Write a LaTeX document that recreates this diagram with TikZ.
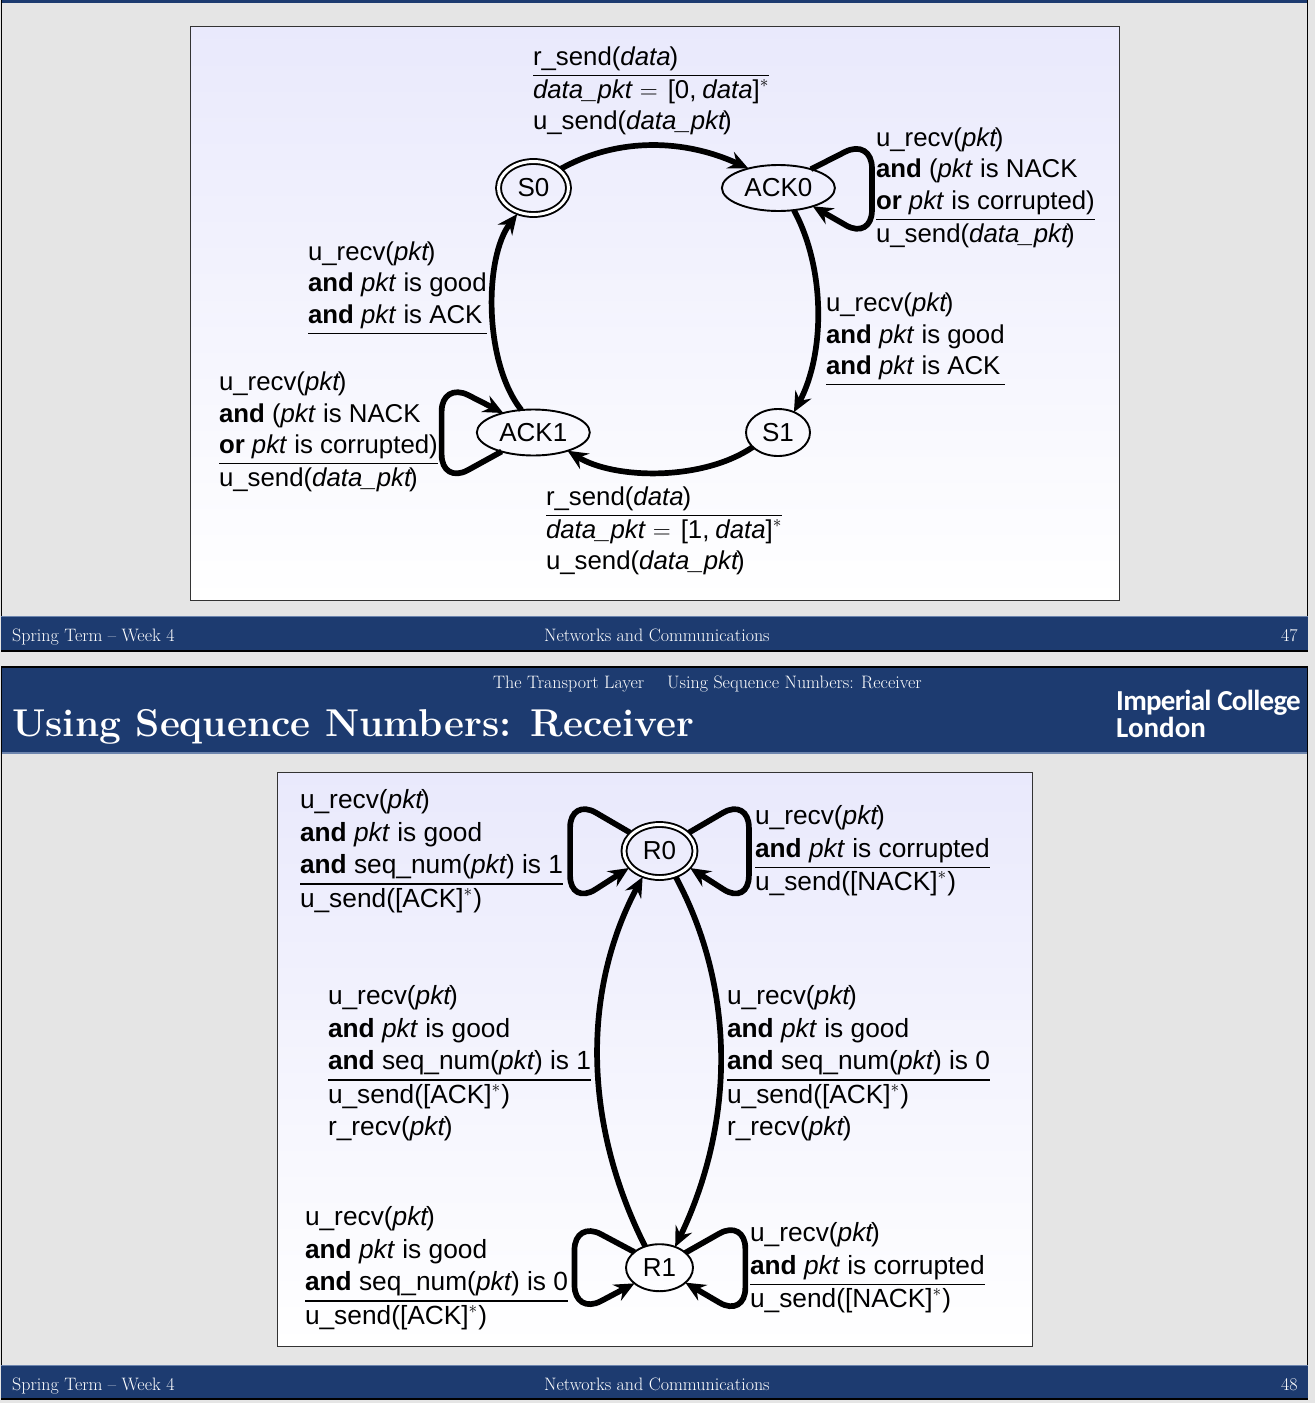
\documentclass[tikz,border=0pt]{standalone}
\usepackage{fontspec}
\usepackage{array}
\usetikzlibrary{shapes.geometric,arrows.meta}
\newfontfamily\hv{Liberation Sans}
\newfontfamily\logofont{Carlito}
\definecolor{navy}{HTML}{1D3B70}
\definecolor{navyedge}{HTML}{6D85AE}
\definecolor{pagegray}{HTML}{E5E5E5}
\definecolor{paneltop}{HTML}{E9E9FC}
\setlength{\arrayrulewidth}{1.4pt}
\newcommand{\lbl}[2]{\node[lblnode] at (#1) {\begin{tabular}{@{}l@{}}#2\end{tabular}};}
\newcommand{\lblb}[2]{\node[lblnodeb] at (#1) {\begin{tabular}{@{}l@{}}#2\end{tabular}};}
\newcommand{\pk}{\textit{pkt}}
\newcommand{\dpk}{\textit{data\_pkt}}
\newcommand{\andk}{\textbf{and}}
\newcommand{\ork}{\textbf{or}}
\newcommand{\stark}{\raisebox{11pt}{\fontsize{17}{17}\selectfont$*$}\kern1pt}
\newcommand{\urecv}{u\_recv(\pk\kern-2.5pt)}
\newcommand{\usend}{u\_send(\dpk\kern-3pt)}
\newcommand{\rrecv}{r\_recv(\pk\kern-2pt)}
\newcommand{\rsend}{r\_send(\textit{data}\kern-1pt)}
\newcommand{\ack}{u\_send([ACK]\stark)}
\newcommand{\nack}{u\_send([NACK]\stark)}
\newcommand{\seqn}[1]{\andk{} seq\_num(\pk\kern-1pt) is #1}
\newcommand{\dpkt}[1]{\dpk\hspace{7pt}$=$\hspace{10pt}[#1,\hspace{6pt}\textit{data}]\stark}
\tikzset{
  lblnode/.style={anchor=north west,inner sep=0pt,outer sep=0pt,font=\hv\fontsize{25.8}{31.5}\selectfont},
  lblnodeb/.style={lblnode,font=\hv\fontsize{26.3}{32.4}\selectfont},
  statenode/.style={draw=black,ellipse,line width=1.9pt,inner sep=0pt,outer sep=0pt,fill=none,font=\hv\fontsize{26}{30}\selectfont},
  finalnode/.style={statenode,double=white,double distance=3pt,outer sep=2.5pt},
  trans/.style={draw=black,line width=5.7pt,-{Stealth[length=20pt,width=18pt,inset=7pt]}},
  loopedge/.style={trans,rounded corners=30pt},
  panel/.style={draw=black!80,line width=1pt,top color=paneltop,bottom color=white},
  bar/.style={fill=navy,draw=none},
  edgeline/.style={fill=navyedge,draw=none},
  frameline/.style={fill=black,draw=none},
  foot/.style={text=white,font=\fontsize{18}{20}\selectfont,inner sep=0pt,anchor=base west},
  logotext/.style={foot,font=\logofont\bfseries\fontsize{29}{30}\selectfont}
}
\begin{document}
\begin{tikzpicture}[x=1pt,y=-1pt]
\useasboundingbox (0,0) rectangle (1315,1403);
\fill[pagegray] (0,0) rectangle (1315,1403);
% slide 1 frame
\path[bar] (1,0) rectangle (1308,3);
\path[frameline] (1,0) rectangle (2,652);
\path[frameline] (1307,0) rectangle (1308,652);
\path[edgeline] (1,616) rectangle (1308,618);
\path[bar] (1,617) rectangle (1308,650);
\path[frameline] (1,650) rectangle (1308,652);
% slide 2 frame
\path[frameline] (1,666) rectangle (1308,668);
\path[bar] (1,668) rectangle (1308,752);
\path[edgeline] (1,752) rectangle (1308,754);
\path[frameline] (1,666) rectangle (2,1400);
\path[frameline] (1307,666) rectangle (1308,1400);
\path[edgeline] (1,1365) rectangle (1308,1367);
\path[bar] (1,1366) rectangle (1308,1398);
\path[frameline] (1,1398) rectangle (1308,1400);
% panels
\path[panel] (190,26) rectangle (1119,600);
\path[panel] (277,772) rectangle (1032,1346);
% header & footers
\node[foot] (f1a) at (12,641.5) {Spring Term -- Week 4};
\node[foot] (f1b) at (544,641.5) {Networks and Communications};
\node[foot] (f1c) at (1281,641.5) {47};
\node[foot] (f2a) at (12,1390.5) {Spring Term -- Week 4};
\node[foot] (f2b) at (544,1390.5) {Networks and Communications};
\node[foot] (f2c) at (1281,1390.5) {48};
\node[foot] (h1) at (493,688.5) {The Transport Layer};
\node[foot] (h2) at (667,688.5) {Using Sequence Numbers: Receiver};
\node[foot,font=\bfseries\fontsize{38.8}{42}\selectfont] (title) at (12,736.5) {Using Sequence Numbers: Receiver};
\node[logotext] (logo1) at (1116,710) {\addfontfeature{LetterSpace=-2.5}Imperial College};
\node[logotext] (logo2) at (1116,737) {London};
% states slide 1
\node[finalnode,minimum width=70pt,minimum height=53pt] (S0) at (533.5,188) {S0};
\node[statenode,minimum width=113pt,minimum height=46pt] (ACK0) at (778.4,188) {ACK0};
\node[statenode,minimum width=64pt,minimum height=47pt] (S1) at (778,432.5) {S1};
\node[statenode,minimum width=113pt,minimum height=46pt] (ACK1) at (533.3,432.5) {ACK1};
% edges slide 1
\draw[trans] (S0.35) .. controls +(58,-32) and +(-63,-29) .. (ACK0.147);
\draw[trans] (ACK0.-55) .. controls +(32,59) and +(31,-58) .. (S1.52);
\draw[trans] (S1.210) .. controls +(-50,34) and +(47,29) .. (ACK1.-28);
\draw[trans] (ACK1.118) .. controls +(-38,-48) and +(-33,43) .. (S0.238);
\draw[loopedge] (ACK0.30) -- ++(61,-31) -- ++(0,102) -- (ACK0.-28);
\draw[loopedge] (ACK1.211) -- ++(-60,33) -- ++(0,-103) -- (ACK1.147);
% labels slide 1
\lbl{533,43.5}{\rsend\\\hline\dpkt{0}\\\usend}
\lbl{876,124.2}{\urecv\\\andk{} (\pk{} is NACK\\\ork{} \pk{} is corrupted)\\\hline\usend}
\lbl{826,289.5}{\urecv\\\andk{} \pk{} is good\\\andk{} \pk{} is ACK\\\hline}
\lbl{308,238.2}{\urecv\\\andk{} \pk{} is good\\\andk{} \pk{} is ACK\\\hline}
\lbl{219,368.5}{\urecv\\\andk{} (\pk{} is NACK\\\ork{} \pk{} is corrupted)\\\hline\usend}
\lbl{546,483.5}{\rsend\\\hline\dpkt{1}\\\usend}
% states slide 2
\node[finalnode,minimum width=71pt,minimum height=53pt] (R0) at (659.5,851) {R0};
\node[statenode,minimum width=67pt,minimum height=47pt] (R1) at (659.5,1267.7) {R1};
% edges slide 2
\draw[trans] (R0.302) .. controls +(60,112) and +(60,-125) .. (R1.53);
\draw[trans] (R1.124) .. controls +(-64,-127) and +(-59,110) .. (R0.237);
\draw[loopedge] (R0.148) -- ++(-60,-35) -- ++(0,108) -- (R0.209);
\draw[loopedge] (R0.32) -- ++(60,-35) -- ++(0,108) -- (R0.-29);
\draw[loopedge] (R1.148) -- ++(-60,-32) -- ++(0,95) -- (R1.212);
\draw[loopedge] (R1.30) -- ++(60,-34) -- ++(0,99) -- (R1.-30);
% labels slide 2
\lblb{300,786}{\urecv\\\andk{} \pk{} is good\\\seqn{1}\\\hline\ack}
\lblb{755,802}{\urecv\\\andk{} \pk{} is corrupted\\\hline\nack}
\lblb{328,982}{\urecv\\\andk{} \pk{} is good\\\seqn{1}\\\hline\ack\\\rrecv}
\lblb{727,982}{\urecv\\\andk{} \pk{} is good\\\seqn{0}\\\hline\ack\\\rrecv}
\lblb{305,1203}{\urecv\\\andk{} \pk{} is good\\\seqn{0}\\\hline\ack}
\lblb{750,1219}{\urecv\\\andk{} \pk{} is corrupted\\\hline\nack}
\end{tikzpicture}
\end{document}
